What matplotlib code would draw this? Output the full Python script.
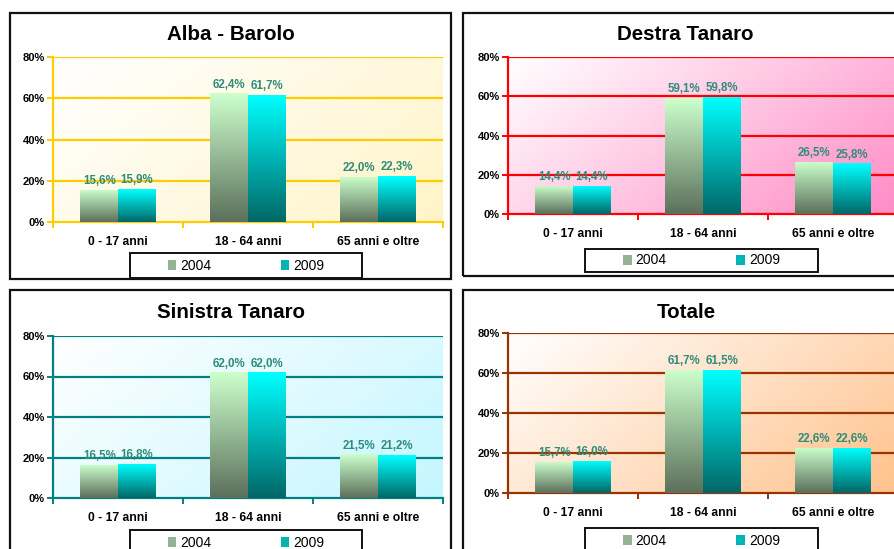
import numpy as np
import matplotlib
matplotlib.use("Agg")
import matplotlib.pyplot as plt
from matplotlib.patches import Rectangle, Patch
from matplotlib.colors import LinearSegmentedColormap

# data
categories = ["0 - 17 anni", "18 - 64 anni", "65 anni e oltre"]
years = ["2004", "2009"]
panel_titles = ["Alba - Barolo", "Destra Tanaro", "Sinistra Tanaro", "Totale"]

alba_2004 = [15.6, 62.4, 22.0]
alba_2009 = [15.9, 61.7, 22.3]
destra_2004 = [14.4, 59.1, 26.5]
destra_2009 = [14.4, 59.8, 25.8]
sinistra_2004 = [16.5, 62.0, 21.5]
sinistra_2009 = [16.8, 62.0, 21.2]
totale_2004 = [15.7, 61.7, 22.6]
totale_2009 = [16.0, 61.5, 22.6]

y_ticks = [0, 20, 40, 60, 80]

W, H = 895, 549
FONT = "Liberation Sans"

# layout of each panel in pixels: box, plot area, title, legend box
panels = [
    dict(title=panel_titles[0], v04=alba_2004, v09=alba_2009,
         box=(10, 13, 451, 279), plot=(53, 57, 443, 222), title_xy=(231, 35),
         legend=(130, 253, 362, 278), grid="#FFCC00", bg="#FFF4C8"),
    dict(title=panel_titles[1], v04=destra_2004, v09=destra_2009,
         box=(463, 13, 912, 276), plot=(508, 57, 898, 214), title_xy=(685, 35),
         legend=(585, 249, 818, 272), grid="#FF0000", bg="#FF8CC6"),
    dict(title=panel_titles[2], v04=sinistra_2004, v09=sinistra_2009,
         box=(10, 290, 451, 560), plot=(53, 336, 443, 498), title_xy=(231, 313),
         legend=(130, 530, 362, 556), grid="#008080", bg="#C4F6FF"),
    dict(title=panel_titles[3], v04=totale_2004, v09=totale_2009,
         box=(463, 290, 912, 560), plot=(508, 333, 898, 493), title_xy=(686, 313),
         legend=(585, 528, 818, 554), grid="#993300", bg="#FFC28C"),
]

bar_04 = ("#CCFFCC", "#5C705C")
bar_09 = ("#00FFFF", "#006868")
label_color = "#2E8C78"


def fig_rect(l, t, r, b):
    return [l / W, 1 - b / H, (r - l) / W, (b - t) / H]


def pct(v):
    return f"{v:.1f}%".replace(".", ",")


def gradient_bar(ax, patch, top, bottom):
    cmap = LinearSegmentedColormap.from_list("bar", [bottom, top])
    x0, y0 = patch.get_x(), patch.get_y()
    w, h = patch.get_width(), patch.get_height()
    grad = np.linspace(1, 0, 64).reshape(-1, 1)
    im = ax.imshow(grad, cmap=cmap, extent=(x0, x0 + w, y0, y0 + h),
                   aspect="auto", zorder=3, interpolation="bicubic")
    im.set_clip_path(patch)
    patch.set_alpha(0)


fig = plt.figure(figsize=(W / 100, H / 100), dpi=100)

for p in panels:
    # panel border
    l, t, r, b = p["box"]
    fig.add_artist(Rectangle((l / W, 1 - b / H), (r - l) / W, (b - t) / H,
                             transform=fig.transFigure, fill=False,
                             ec="#111111", lw=1.6, zorder=1))

    ax = fig.add_axes(fig_rect(*p["plot"]))
    ax.set_facecolor("none")

    # diagonal background gradient
    xx, yy = np.meshgrid(np.linspace(0, 1, 100), np.linspace(0, 1, 100))
    diag = (xx * 0.65 + yy * 0.35)
    bg_cmap = LinearSegmentedColormap.from_list("bg", ["#FFFFFF", p["bg"]])
    ax.imshow(diag, cmap=bg_cmap, extent=(-0.5, 2.5, 0, 80), aspect="auto",
              zorder=0, origin="upper")

    x = np.arange(len(categories))
    width = 0.29
    bars04 = ax.bar(x - width / 2, p["v04"], width, color=bar_04[0], zorder=3)
    bars09 = ax.bar(x + width / 2, p["v09"], width, color=bar_09[0], zorder=3)
    for patch in bars04:
        gradient_bar(ax, patch, *bar_04)
    for patch in bars09:
        gradient_bar(ax, patch, *bar_09)

    for bars, vals in ((bars04, p["v04"]), (bars09, p["v09"])):
        ax.bar_label(bars, labels=[pct(v) for v in vals], padding=2,
                     color=label_color, fontsize=8.3, fontweight="bold",
                     family=FONT, zorder=5)

    ax.set_xlim(-0.5, 2.5)
    ax.set_ylim(0, 80)
    ax.set_yticks(y_ticks)
    ax.set_yticklabels([f"{v}%" for v in y_ticks])
    for v in y_ticks[1:]:
        ax.axhline(v, color=p["grid"], lw=1.6, zorder=1)

    ax.set_xticks([-0.5, 0.5, 1.5, 2.5])
    ax.set_xticklabels([])
    ax.set_xticks(x, minor=True)
    ax.set_xticklabels(categories, minor=True)
    ax.tick_params(axis="x", which="major", length=4, width=1.4, color=p["grid"])
    ax.tick_params(axis="x", which="minor", length=0, pad=10)
    ax.tick_params(axis="y", length=4, width=1.4, color=p["grid"], pad=2)
    for lab in ax.get_xticklabels(minor=True):
        lab.set_fontsize(8.7)
        lab.set_fontweight("bold")
        lab.set_family(FONT)
    for lab in ax.get_yticklabels():
        lab.set_fontsize(8)
        lab.set_fontweight("bold")
        lab.set_family(FONT)

    for side in ("top", "right"):
        ax.spines[side].set_visible(False)
    for side in ("left", "bottom"):
        ax.spines[side].set_color(p["grid"])
        ax.spines[side].set_linewidth(1.6)

    # title
    tx, ty = p["title_xy"]
    fig.text(tx / W, 1 - ty / H, p["title"], ha="center", va="center",
             fontsize=14.8, fontweight="bold", family=FONT)

    # legend box
    l, t, r, b = p["legend"]
    fig.add_artist(Rectangle((l / W, 1 - b / H), (r - l) / W, (b - t) / H,
                             transform=fig.transFigure, fc="white",
                             ec="#111111", lw=1.4, zorder=8))
    handles = [Patch(facecolor="#94B294", edgecolor="none"),
               Patch(facecolor="#00B4B4", edgecolor="none")]
    leg = fig.legend(handles, years, loc="center",
                     bbox_to_anchor=((l + r) / 2 / W, 1 - (t + b) / 2 / H),
                     ncol=2, frameon=False,
                     prop={"family": FONT, "size": 10},
                     handlelength=0.6, handleheight=0.7, handletextpad=0.3,
                     columnspacing=5.0, borderpad=0)
    leg.set_zorder(10)

fig.savefig("out.png", dpi=100)
